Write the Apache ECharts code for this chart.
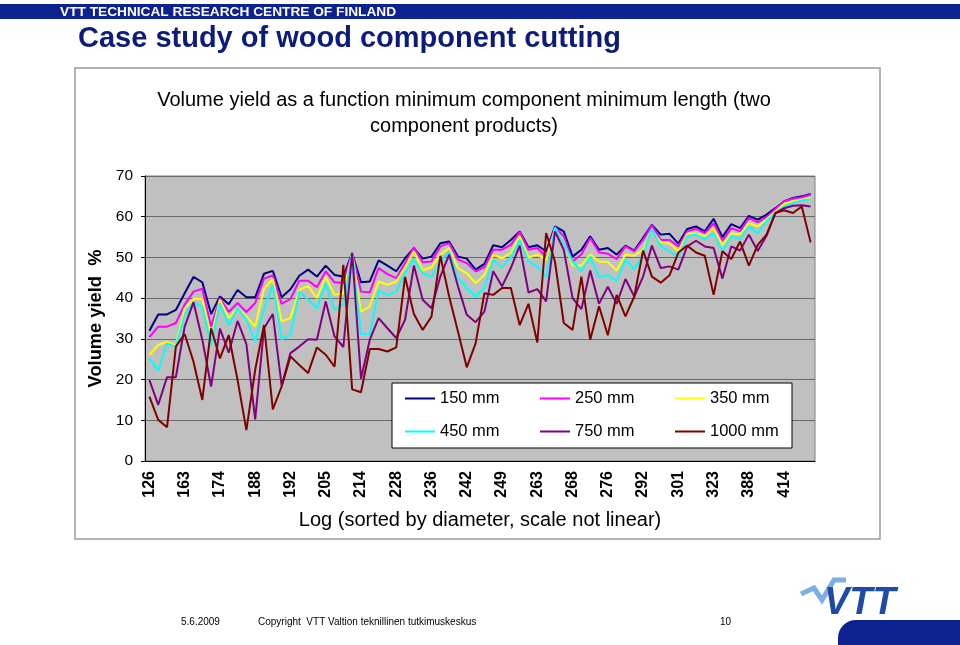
<!DOCTYPE html>
<html>
<head>
<meta charset="utf-8">
<script src="https://cdn.jsdelivr.net/npm/echarts@6/dist/echarts.min.js"></script>
<style>html,body{margin:0;padding:0;background:#fff;}#c{width:960px;height:645px;}</style>
</head>
<body>
<div id="c"></div>
<script>
const tickLabels = ['126','163','174','188','192','205','214','228','236','242','249','263','268','276','292','301','323','388','414'];
const seriesNames = ['150 mm','250 mm','350 mm','450 mm','750 mm','1000 mm'];
const s150 = [32.0,36,36,37.1,41.2,45.2,43.9,36.1,40.4,38.5,42,40.2,40.2,46,46.7,40.2,42.2,45.5,47,45.3,48,45.7,45.3,51.1,43.9,44.1,49.3,48,46.6,49.8,52.3,49.7,50.2,53.5,53.9,50.2,49.7,47,48.4,53,52.5,54.3,56.4,52.5,53,51.5,57.6,56.4,50.2,51.9,55.2,51.9,52.3,50.7,52.9,51.7,54.8,58,55.6,55.8,53.4,57,57.6,56.4,59.5,55,58.2,57.2,60.2,59.3,60.5,62.1,63.8,64.6,65,65.6];
const s250 = [30.4,33,33,33.9,38.4,41.6,42.3,33,40,36.6,38.8,36.6,38.8,44.8,45.6,38.6,39.8,44.3,44.3,42.7,46.6,43.9,43.7,51.1,41.6,41.4,47.4,45.9,44.9,48.6,52.5,48.8,49,52.7,53.5,49.5,48.6,46.6,47.6,51.9,51.9,53.1,56.2,51.9,52.3,50.2,57.4,55.2,49,50.7,54.8,51.2,50.9,49.6,52.7,51.5,54.3,57.9,54.3,54.3,52.7,56.4,57,56,58.4,54.1,57.2,56.4,59.7,58.6,59.9,61.9,63.8,64.4,64.8,65.4];
const s350 = [26.1,28.5,29.3,28.4,37.5,39.8,39.8,30.6,39.6,35.1,37.5,35.5,33,42.3,44.7,34.3,35.1,42,43,40,45.2,40.8,41.2,51.1,36.7,38,44.1,43.3,44.1,47.6,51.5,46.8,47.6,50.7,52.3,47.4,46.1,43.7,45.7,50.7,49.8,51.1,55.2,50,50.7,49.4,57,53.9,48,48,50.7,49,48.9,46.8,50.7,50.4,51.9,56.8,53.7,53.4,51.5,55.8,55.9,55.2,57.2,53.1,55.9,55.7,58.4,57.6,59.4,61.3,63.2,63.8,64.2,64.6];
const s450 = [25.2,22.2,28.9,28.1,35.9,38.9,38,28.5,38.8,33.3,37.5,34.7,29.3,37.5,43.3,29.9,31,41.6,39.6,37.5,43.7,37.1,38.4,51.1,31.2,31.2,41.9,40.8,41.6,46.1,49.6,46.1,45.3,49,51.5,44.9,42.5,40.4,42.5,49.4,47.6,50,54.3,49,47.8,45.2,57.4,53.5,49,46.6,50.2,45.1,45.7,44.1,49.4,47.1,50.7,57,52.7,51.5,50.1,55.2,55.6,54.5,55.9,51.5,55.2,54.5,57.6,55.9,58.9,60.9,62.5,63.4,64,64.3];
const s750 = [19.9,13.8,20.6,20.6,33,39,29.8,18.3,32.5,26.6,34.4,28.7,10.2,32.6,36.1,18.5,26.5,28.1,29.9,29.8,39.2,30.6,28,51.1,20.2,29.8,35.1,32.6,30.2,34.7,48,39.6,37.5,45.3,50.7,42.9,35.9,34.1,36.7,46.6,42.9,47.4,52.9,41.4,42.2,39.2,56.4,51.9,40,37.3,46.8,38.6,42.8,38.6,44.7,40.4,45.3,52.9,47.4,47.8,47,52.7,54.1,52.7,52.3,44.8,52.7,51.7,55.6,51.6,55.3,60.9,62.1,62.7,62.8,62.5];
const s1000 = [15.8,10.1,8.3,28.1,31.2,24.4,15,32.6,25.2,30.9,19.9,7.6,22.4,33.4,12.7,18.3,25.7,23.6,21.6,27.9,26.1,23.2,48.2,17.6,16.9,27.5,27.5,26.9,27.9,45.2,36.1,32.2,35.5,50.4,40.4,31.8,23,28.9,41.2,40.8,42.5,42.5,33.4,38.6,29.1,56,49,33.9,32.2,45.3,29.8,38,30.9,40.8,35.5,40.4,51.7,45.3,43.8,45.6,51.2,52.9,51.2,50.4,40.8,51.5,49.6,53.9,48,53.1,55.6,60.9,61.6,60.9,62.5,53.7];
const seriesData = [s150,s250,s350,s450,s750,s1000];
const colors = ['#000080','#FF00FF','#FFFF00','#00FFFF','#800080','#800000'];
const categories = s150.map((_, i) => String(i));

const FF = 'Arial, "Liberation Sans", sans-serif';
const chart = echarts.init(document.getElementById('c'));
const legendLefts = [405, 540, 675];
const legendTops = [390, 423];
const legends = seriesNames.map((n, k) => ({
  data: [n], left: legendLefts[k % 3], top: legendTops[Math.floor(k / 3)], padding: 0,
  icon: 'rect', itemWidth: 30, itemHeight: 2, itemGap: 5, z: 6,
  textStyle: { fontFamily: FF, fontSize: 16.5, color: '#000' }
}));
chart.setOption({
  animation: false,
  backgroundColor: '#fff',
  grid: { left: 145, right: 145, top: 176, bottom: 184, show: true, backgroundColor: '#C0C0C0', borderColor: '#808080', borderWidth: 1 },
  legend: legends,
  xAxis: {
    type: 'category', data: categories, boundaryGap: true,
    name: 'Log (sorted by diameter, scale not linear)', nameLocation: 'middle', nameGap: 49,
    nameTextStyle: { fontFamily: FF, fontSize: 20, color: '#000' },
    axisLine: { lineStyle: { color: '#000', width: 1 } },
    axisTick: { interval: 0, length: 4, lineStyle: { color: '#000' } },
    axisLabel: { interval: 3, rotate: 90, margin: 10, fontFamily: FF, fontSize: 16, fontWeight: 'bold', color: '#000',
      formatter: (v, idx) => tickLabels[Math.round(idx / 4)] || '' },
    splitLine: { show: false }
  },
  yAxis: {
    type: 'value', min: 0, max: 70, interval: 10,
    name: 'Volume yield  %', nameLocation: 'middle', nameGap: 39, nameRotate: 90,
    nameTextStyle: { fontFamily: FF, fontSize: 18.3, fontWeight: 'bold', color: '#000' },
    axisLine: { show: true, lineStyle: { color: '#000', width: 1 } },
    axisTick: { show: true, length: 4, lineStyle: { color: '#000' } },
    axisLabel: { margin: 12, fontFamily: FF, fontSize: 15.5, color: '#000' },
    splitLine: { lineStyle: { color: '#6a6a6a', width: 1 } }
  },
  series: seriesNames.map((n, k) => ({
    name: n, type: 'line', data: seriesData[k], symbol: 'none', z: 2,
    lineStyle: { color: colors[k], width: 2 }, itemStyle: { color: colors[k] }
  })),
  graphic: [
    { type: 'rect', z: 0, shape: { x: 0, y: 4, width: 960, height: 15 }, style: { fill: '#0E2190' } },
    { type: 'text', z: 1, x: 60, y: 12, style: { text: 'VTT TECHNICAL RESEARCH CENTRE OF FINLAND', fill: '#fff', font: 'bold 13.7px ' + FF, textVerticalAlign: 'middle' } },
    { type: 'text', z: 1, x: 78, y: 39, style: { text: 'Case study of wood component cutting', fill: '#0D1C7C', font: 'bold 29px ' + FF, textVerticalAlign: 'middle' } },
    { type: 'rect', z: -1, shape: { x: 75, y: 68, width: 805, height: 471 }, style: { fill: 'none', stroke: '#9a9a9a', lineWidth: 1.5 } },
    { type: 'text', z: 1, x: 464, y: 100, style: { text: 'Volume yield as a function minimum component minimum length (two', fill: '#000', font: '20px ' + FF, textAlign: 'center', textVerticalAlign: 'middle' } },
    { type: 'text', z: 1, x: 464, y: 126, style: { text: 'component products)', fill: '#000', font: '20px ' + FF, textAlign: 'center', textVerticalAlign: 'middle' } },
    { type: 'rect', z: 5, shape: { x: 392, y: 383, width: 400, height: 65 }, style: { fill: '#fff', stroke: '#000', lineWidth: 1 } },
    { type: 'text', z: 1, x: 181, y: 622, style: { text: '5.6.2009', fill: '#000', font: '10px ' + FF, textVerticalAlign: 'middle' } },
    { type: 'text', z: 1, x: 258, y: 622, style: { text: 'Copyright  VTT Valtion teknillinen tutkimuskeskus', fill: '#000', font: '10px ' + FF, textVerticalAlign: 'middle' } },
    { type: 'text', z: 1, x: 720, y: 622, style: { text: '10', fill: '#000', font: '10px ' + FF, textVerticalAlign: 'middle' } },
    { type: 'polyline', z: 1, shape: { points: [[801, 594], [814, 588], [822, 600], [834, 580], [846, 580]] }, style: { stroke: '#7BB0E0', lineWidth: 5, fill: 'none' } },
    { type: 'text', z: 1, x: 824, y: 604, style: { text: 'VTT', fill: '#1E4BA8', font: 'italic bold 38px ' + FF, textVerticalAlign: 'middle' } },
    { type: 'rect', z: 1, shape: { x: 838, y: 620, width: 140, height: 40, r: [18, 0, 0, 0] }, style: { fill: '#0E2190' } }
  ]
});
</script>
</body>
</html>
